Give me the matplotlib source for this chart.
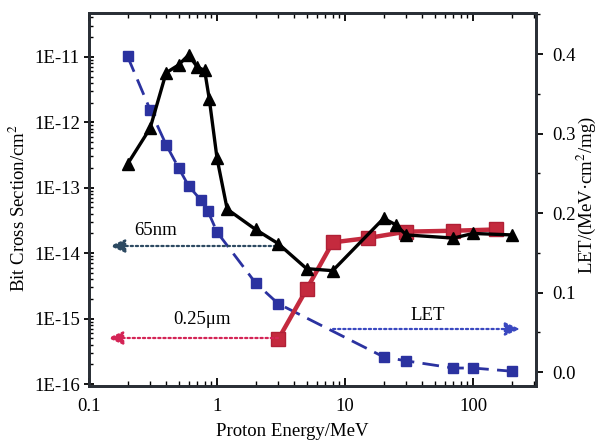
import matplotlib
matplotlib.use("Agg")
import matplotlib.pyplot as plt
from matplotlib.ticker import FuncFormatter, LogLocator, MultipleLocator, NullFormatter, FixedLocator
import numpy as np

# 65nm bit cross section (left axis)
e65 = [0.2, 0.3, 0.4, 0.5, 0.6, 0.7, 0.8, 0.87, 1.0, 1.2, 2.0, 3.0, 5.0, 8.0, 20, 25, 30, 70, 100, 200]
xs65 = [2.3e-13, 8.1e-13, 5.7e-12, 7.5e-12, 1.07e-11, 7.0e-12, 6.2e-12, 2.25e-12, 2.8e-13, 4.7e-14,
        2.3e-14, 1.4e-14, 5.8e-15, 5.4e-15, 3.4e-14, 2.7e-14, 1.9e-14, 1.7e-14, 2.0e-14, 1.9e-14]

# 0.25um bit cross section (left axis)
e025 = [3, 5, 8, 15, 30, 70, 150]
xs025 = [4.8e-16, 2.8e-15, 1.46e-14, 1.7e-14, 2.13e-14, 2.2e-14, 2.3e-14]

# LET (right axis)
eLET = [0.2, 0.3, 0.4, 0.5, 0.6, 0.75, 0.85, 1.0, 2.0, 3.0, 20, 30, 70, 100, 200]
let = [0.397, 0.330, 0.286, 0.257, 0.234, 0.216, 0.202, 0.176, 0.112, 0.086, 0.019, 0.014, 0.005, 0.005, 0.001]

serif = ["Liberation Serif", "DejaVu Serif"]
plt.rcParams["font.family"] = serif
plt.rcParams["mathtext.fontset"] = "stix"

FS = 13.5

fig = plt.figure(figsize=(6.03, 4.42), dpi=100)
fig.patch.set_facecolor("white")
ax = fig.add_axes([0.1476, 0.1267, 0.889 - 0.1476, 0.9706 - 0.1267])
ax.set_xscale("log")
ax.set_yscale("log")
ax.set_xlim(0.1, 310)
ax.set_ylim(10**-16.03, 10**-10.33)

ax2 = ax.twinx()
ax2.set_ylim(-0.0176, 0.4516)

# LET curve
ax2.plot(eLET, let, color="#2b32a0", lw=2.0, dashes=(6, 3), marker="s", ms=6.5,
         mfc="#2b32a0", mec="#2b32a0", zorder=3)

# 0.25um
ax.plot(e025, xs025, color="#c42a3e", lw=3.2, marker="s", ms=9.5, mfc="#c42a3e",
        mec="#b02036", zorder=3)
# 65nm
ax.plot(e65, xs65, color="black", lw=2.4, marker="^", ms=9, mfc="black", mec="black", zorder=4)
ax.set_zorder(ax2.get_zorder() + 1)
ax.patch.set_visible(False)
ax2.set_facecolor("#f8f9f9")

W = 536 - 89
H = 386 - 13
def fx(px):
    return (px - 89) / W
def fy(py):
    return (386 - py) / H

def arrow(x0, x1, y, color):
    ax.annotate("", xy=(x1, y), xytext=(x0, y), xycoords="axes fraction",
                arrowprops=dict(arrowstyle="-|>,head_length=0.9,head_width=0.4", color=color,
                                lw=1.6, linestyle=(0, (1, 1.3)), shrinkA=0, shrinkB=0))

arrow(fx(276), fx(110), fy(246), "#2d4a62")
arrow(fx(278), fx(108), fy(338), "#d42456")
arrow(fx(333), fx(520), fy(329), "#3a48c0")
ax.text(fx(156), fy(231), "65nm", transform=ax.transAxes, ha="center", va="center", fontsize=FS)
ax.text(fx(202), fy(320), "0.25μm", transform=ax.transAxes, ha="center", va="center", fontsize=FS)
ax.text(fx(428), fy(316), "LET", transform=ax.transAxes, ha="center", va="center", fontsize=FS)

# ticks
def sci(v, pos):
    e = int(round(np.log10(v)))
    return "1E%d" % e
ax.yaxis.set_major_locator(FixedLocator([1e-16, 1e-15, 1e-14, 1e-13, 1e-12, 1e-11]))
ax.yaxis.set_major_formatter(FuncFormatter(sci))
ax.yaxis.set_minor_locator(LogLocator(base=10, subs=np.arange(2, 10), numticks=20))
ax.yaxis.set_minor_formatter(NullFormatter())
ax.xaxis.set_major_locator(FixedLocator([0.1, 1, 10, 100]))
ax.xaxis.set_major_formatter(FuncFormatter(lambda v, p: ("%g" % v)))
ax.xaxis.set_minor_locator(LogLocator(base=10, subs=np.arange(2, 10), numticks=20))
ax.xaxis.set_minor_formatter(NullFormatter())

ax.tick_params(axis="y", which="major", direction="inout", length=7, width=1.3, labelsize=FS, pad=3)
ax.tick_params(axis="y", which="minor", direction="in", length=3, width=1.0)
ax.tick_params(axis="x", which="major", direction="in", length=6, width=1.3, labelsize=FS, pad=9,
               top=True)
ax.tick_params(axis="x", which="minor", direction="in", length=3.5, width=1.0, top=True)

ax2.yaxis.set_major_locator(MultipleLocator(0.1))
ax2.yaxis.set_minor_locator(MultipleLocator(0.05))
ax2.yaxis.set_major_formatter(FuncFormatter(lambda v, p: "%.1f" % v))
ax2.tick_params(axis="y", which="major", direction="out", length=5, width=1.3, labelsize=FS, pad=7)
ax2.tick_params(axis="y", which="minor", direction="out", length=3, width=1.0)

for a in (ax, ax2):
    for s in a.spines.values():
        s.set_linewidth(2.0)
        s.set_color("#2a2f36")

fig.text(292 / 603, 1 - 431 / 442, "Proton Energy/MeV", fontsize=FS, ha="center", va="center")
fig.text(19 / 603, 1 - 208 / 442, "Bit Cross Section/cm$^2$", fontsize=FS, ha="center",
         va="center", rotation=90)
fig.text(586 / 603, 1 - 195 / 442, "LET/(MeV·cm$^2$/mg)", fontsize=FS, ha="center",
         va="center", rotation=90)

fig.savefig("out.png", dpi=100, facecolor="white")
